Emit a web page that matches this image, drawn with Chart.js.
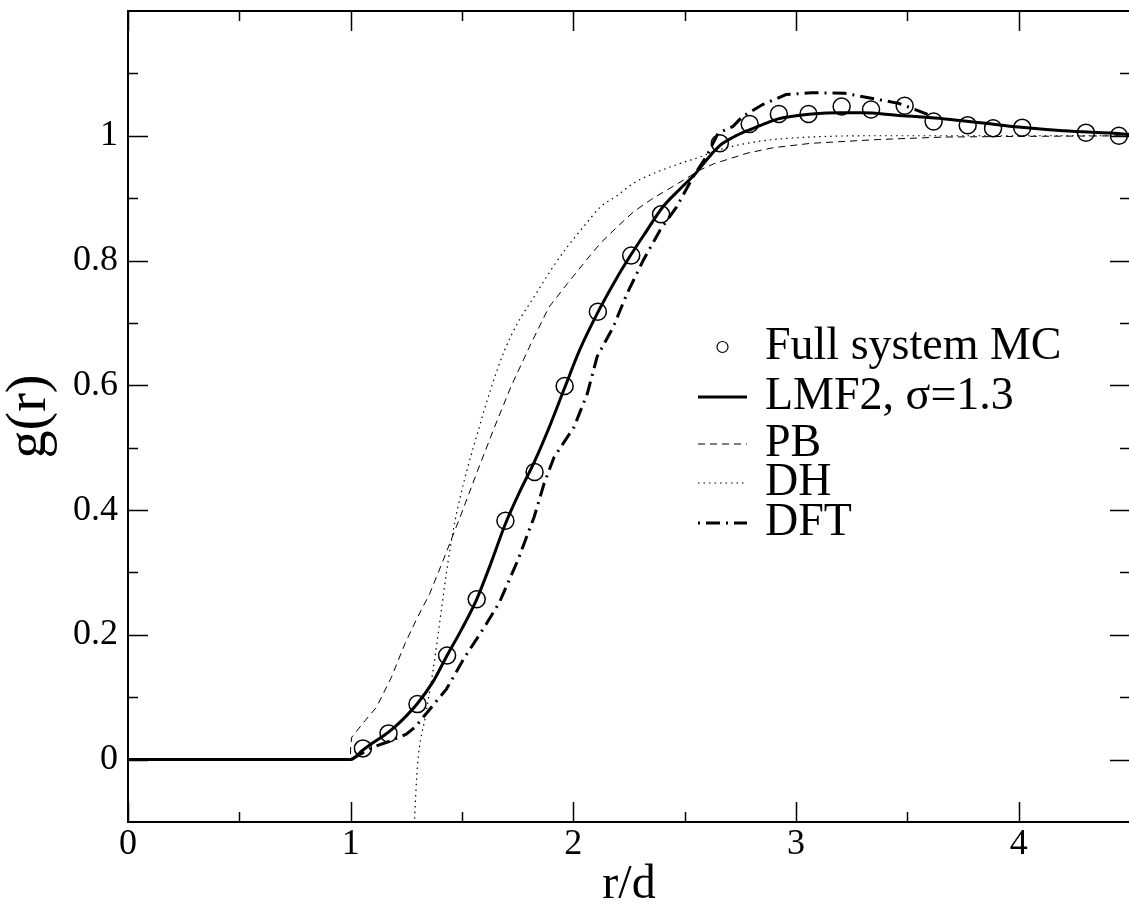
<!DOCTYPE html>
<html>
<head>
<meta charset="utf-8">
<script src="https://cdn.jsdelivr.net/npm/chart.js@4.4.0/dist/chart.umd.min.js"></script>
<style>
  html, body { margin: 0; padding: 0; overflow: hidden; background: #fff; }
  #wrap { width: 1140px; height: 905px; }
  canvas { display: block; }
</style>
</head>
<body>
<div id="wrap"><canvas id="gr" width="1140" height="905" style="width:1140px;height:905px"></canvas></div>
<script>
// Full system MC (open circles)
const mcX = [1.055, 1.17, 1.30, 1.433, 1.566, 1.695, 1.826, 1.961, 2.11, 2.26, 2.394,
  2.658, 2.792, 2.923, 3.056, 3.205, 3.337, 3.488, 3.618, 3.771, 3.885, 4.016, 4.302, 4.45];
const mcY = [0.018, 0.042, 0.089, 0.167, 0.257, 0.383, 0.461, 0.599, 0.718, 0.808, 0.874,
  0.988, 1.019, 1.035, 1.035, 1.047, 1.042, 1.048, 1.023, 1.017, 1.012, 1.013, 1.005, 1.0];

// LMF2, sigma = 1.3 (solid)
const lmfX = [0, 1.0, 1.05, 1.1, 1.17, 1.23, 1.3, 1.37, 1.43, 1.5, 1.566, 1.63, 1.695, 1.76, 1.826,
  1.9, 1.961, 2.03, 2.11, 2.19, 2.26, 2.33, 2.4, 2.48, 2.55, 2.6, 2.66, 2.72, 2.78, 2.85, 2.92,
  3.0, 3.07, 3.2, 3.3, 3.45, 3.67, 3.85, 4.0, 4.2, 4.47, 4.5];
const lmfY = [0, 0, 0.014, 0.027, 0.044, 0.063, 0.09, 0.125, 0.165, 0.21, 0.257, 0.315, 0.378, 0.43, 0.478,
  0.54, 0.596, 0.658, 0.717, 0.769, 0.81, 0.848, 0.885, 0.915, 0.94, 0.962, 0.985, 0.998, 1.008, 1.018, 1.027,
  1.032, 1.035, 1.037, 1.037, 1.033, 1.027, 1.02, 1.014, 1.008, 1.003, 1.002];

// PB (thin dashed)
const pbX = [0, 0.999, 1.0, 1.005, 1.066, 1.116, 1.183, 1.244, 1.30, 1.355, 1.415, 1.497, 1.571, 1.646,
  1.72, 1.81, 1.89, 1.973, 2.05, 2.122, 2.2, 2.27, 2.35, 2.42, 2.5, 2.568, 2.63, 2.78, 2.9, 3.07,
  3.37, 3.67, 4.0, 4.5];
const pbY = [0, 0, 0.022, 0.036, 0.063, 0.084, 0.132, 0.186, 0.228, 0.266, 0.319, 0.394, 0.464, 0.533,
  0.598, 0.667, 0.725, 0.763, 0.797, 0.828, 0.855, 0.878, 0.898, 0.913, 0.93, 0.945, 0.955, 0.972, 0.981, 0.988,
  0.994, 0.998, 0.999, 1.0];

// DH (dotted)
const dhX = [1.27, 1.286, 1.30, 1.336, 1.37, 1.407, 1.438, 1.47, 1.512, 1.571, 1.63, 1.69, 1.75, 1.824,
  1.9, 1.973, 2.05, 2.122, 2.2, 2.27, 2.35, 2.42, 2.5, 2.568, 2.65, 2.78, 2.9, 3.07, 3.3, 4.5];
const dhY = [-0.2, -0.1, -0.01, 0.07, 0.143, 0.239, 0.319, 0.385, 0.45, 0.525, 0.595, 0.655, 0.70, 0.742,
  0.785, 0.822, 0.856, 0.886, 0.905, 0.924, 0.938, 0.948, 0.958, 0.966, 0.977, 0.988, 0.994, 0.998, 1.0, 1.0];

// DFT (dash-dot)
const dftX = [0, 1.0, 1.05, 1.10, 1.18, 1.251, 1.289, 1.363, 1.43, 1.512, 1.60, 1.668, 1.75, 1.824,
  1.869, 1.914, 2.003, 2.063, 2.107, 2.18, 2.241, 2.315, 2.39, 2.464, 2.539, 2.598, 2.65, 2.717,
  2.76, 2.85, 2.955, 3.07, 3.22, 3.37, 3.46, 3.536, 3.6];
const dftY = [0, 0, 0.01, 0.02, 0.03, 0.041, 0.052, 0.084, 0.113, 0.164, 0.212, 0.252, 0.319, 0.389,
  0.443, 0.485, 0.533, 0.587, 0.646, 0.694, 0.747, 0.801, 0.849, 0.886, 0.935, 0.967, 1.004, 1.015,
  1.031, 1.05, 1.066, 1.069, 1.068, 1.058, 1.052, 1.042, 1.033];

// axes
const xMajorTicks = [0, 1, 2, 3, 4];
const xMinorTicks = [0.5, 1.5, 2.5, 3.5];
const xTickLabels = ['0', '1', '2', '3', '4'];
const yMajorTicks = [0, 0.2, 0.4, 0.6, 0.8, 1.0];
const yMinorTicks = [0.1, 0.3, 0.5, 0.7, 0.9, 1.1];
const yTickLabels = ['0', '0.2', '0.4', '0.6', '0.8', '1'];

const legendLabels = ['Full system MC', 'LMF2, \u03c3=1.3', 'PB', 'DH', 'DFT'];

const serif = '"Liberation Serif", "Times New Roman", Times, serif';
const pts = (xs, ys) => xs.map((x, i) => ({ x: x, y: ys[i] }));

// frame with inward ticks on all four sides
const frameTicks = {
  id: 'frameTicks',
  afterDatasetsDraw(chart) {
    const { ctx, chartArea: a, scales: { x, y } } = chart;
    ctx.save();
    ctx.strokeStyle = '#000';
    ctx.lineWidth = 2;
    ctx.strokeRect(a.left, a.top, a.right - a.left, a.bottom - a.top);
    ctx.lineWidth = 1.5;
    ctx.beginPath();
    const xt = (v, len) => {
      const px = Math.round(x.getPixelForValue(v)) + 0.5;
      ctx.moveTo(px, a.bottom); ctx.lineTo(px, a.bottom - len);
      ctx.moveTo(px, a.top); ctx.lineTo(px, a.top + len);
    };
    const yt = (v, len) => {
      const py = Math.round(y.getPixelForValue(v)) + 0.5;
      ctx.moveTo(a.left, py); ctx.lineTo(a.left + len, py);
      ctx.moveTo(a.right, py); ctx.lineTo(a.right - len, py);
    };
    xMajorTicks.forEach(v => xt(v, 20));
    xMinorTicks.forEach(v => xt(v, 10));
    yMajorTicks.forEach(v => yt(v, 20));
    yMinorTicks.forEach(v => yt(v, 10));
    ctx.stroke();
    ctx.restore();
  }
};

// legend inside the plot
const insideLegend = {
  id: 'insideLegend',
  afterDraw(chart) {
    const { ctx, chartArea: a } = chart;
    const x0 = a.left + 570;   // sample start
    const x1 = a.left + 619;   // sample end
    const tx = a.left + 637;   // text start
    const rows = [347, 397, 444, 483, 523];
    ctx.save();
    ctx.strokeStyle = '#000';
    ctx.fillStyle = '#000';
    ctx.lineWidth = 1.2;
    ctx.beginPath();
    ctx.arc((x0 + x1) / 2, rows[0], 5.5, 0, Math.PI * 2);
    ctx.stroke();
    const line = (yy, w, dash) => {
      ctx.lineWidth = w;
      ctx.setLineDash(dash);
      ctx.beginPath();
      ctx.moveTo(x0, yy); ctx.lineTo(x1, yy);
      ctx.stroke();
    };
    line(rows[1], 3, []);
    line(rows[2], 1, [7, 5]);
    line(rows[3], 1, [1.5, 4]);
    line(rows[4], 3, [2, 6, 14, 6]);
    ctx.setLineDash([]);
    ctx.font = '46px ' + serif;
    ctx.textBaseline = 'middle';
    ctx.textAlign = 'left';
    legendLabels.forEach((t, i) => ctx.fillText(t, tx, rows[i]));
    ctx.restore();
  }
};

const ctx = document.getElementById('gr').getContext('2d');
new Chart(ctx, {
  type: 'scatter',
  data: {
    datasets: [
      {
        label: legendLabels[0],
        data: pts(mcX, mcY),
        showLine: false,
        pointStyle: 'circle',
        pointRadius: 8.5,
        pointBorderWidth: 1.5,
        pointBorderColor: '#000',
        pointBackgroundColor: 'rgba(0,0,0,0)',
        order: 0
      },
      {
        label: legendLabels[1],
        data: pts(lmfX, lmfY),
        showLine: true,
        borderColor: '#000',
        borderWidth: 3,
        pointRadius: 0,
        cubicInterpolationMode: 'monotone',
        order: 1
      },
      {
        label: legendLabels[2],
        data: pts(pbX, pbY),
        showLine: true,
        borderColor: '#000',
        borderWidth: 1,
        borderDash: [7, 5],
        pointRadius: 0,
        order: 2
      },
      {
        label: legendLabels[3],
        data: pts(dhX, dhY),
        showLine: true,
        borderColor: '#000',
        borderWidth: 1.2,
        borderDash: [1.5, 4],
        pointRadius: 0,
        cubicInterpolationMode: 'monotone',
        order: 3
      },
      {
        label: legendLabels[4],
        data: pts(dftX, dftY),
        showLine: true,
        borderColor: '#000',
        borderWidth: 3,
        borderDash: [14, 6, 2, 6],
        pointRadius: 0,
        order: 4
      }
    ]
  },
  options: {
    responsive: false,
    animation: false,
    devicePixelRatio: 1,
    layout: { padding: { top: 11, right: 4, left: 0, bottom: 0 } },
    plugins: {
      legend: { display: false },
      tooltip: { enabled: false }
    },
    scales: {
      x: {
        type: 'linear',
        min: 0,
        max: 4.5,
        grid: { display: false, drawTicks: false },
        border: { display: false },
        afterBuildTicks: (s) => { s.ticks = xMajorTicks.map(v => ({ value: v })); },
        afterFit: (s) => { s.height = 83; s.paddingLeft = 0; s.paddingRight = 0; },
        ticks: {
          color: '#000',
          padding: 5,
          maxRotation: 0,
          font: { family: serif, size: 36, lineHeight: 1 },
          callback: (v, i) => xTickLabels[i]
        },
        title: {
          display: true,
          text: 'r/d',
          color: '#000',
          padding: 0,
          font: { family: serif, size: 48, lineHeight: 0.8 }
        }
      },
      y: {
        type: 'linear',
        min: -0.1,
        max: 1.2,
        grid: { display: false, drawTicks: false },
        border: { display: false },
        afterBuildTicks: (s) => { s.ticks = yMajorTicks.map(v => ({ value: v })); },
        afterFit: (s) => { s.width = 128; s.paddingTop = 0; s.paddingBottom = 0; },
        ticks: {
          color: '#000',
          padding: 10,
          font: { family: serif, size: 36, lineHeight: 1 },
          callback: (v, i) => yTickLabels[i]
        },
        title: {
          display: true,
          text: 'g(r)',
          color: '#000',
          padding: { top: 8, bottom: 0 },
          font: { family: serif, size: 56, lineHeight: 0.8 }
        }
      }
    }
  },
  plugins: [frameTicks, insideLegend]
});
</script>
</body>
</html>
